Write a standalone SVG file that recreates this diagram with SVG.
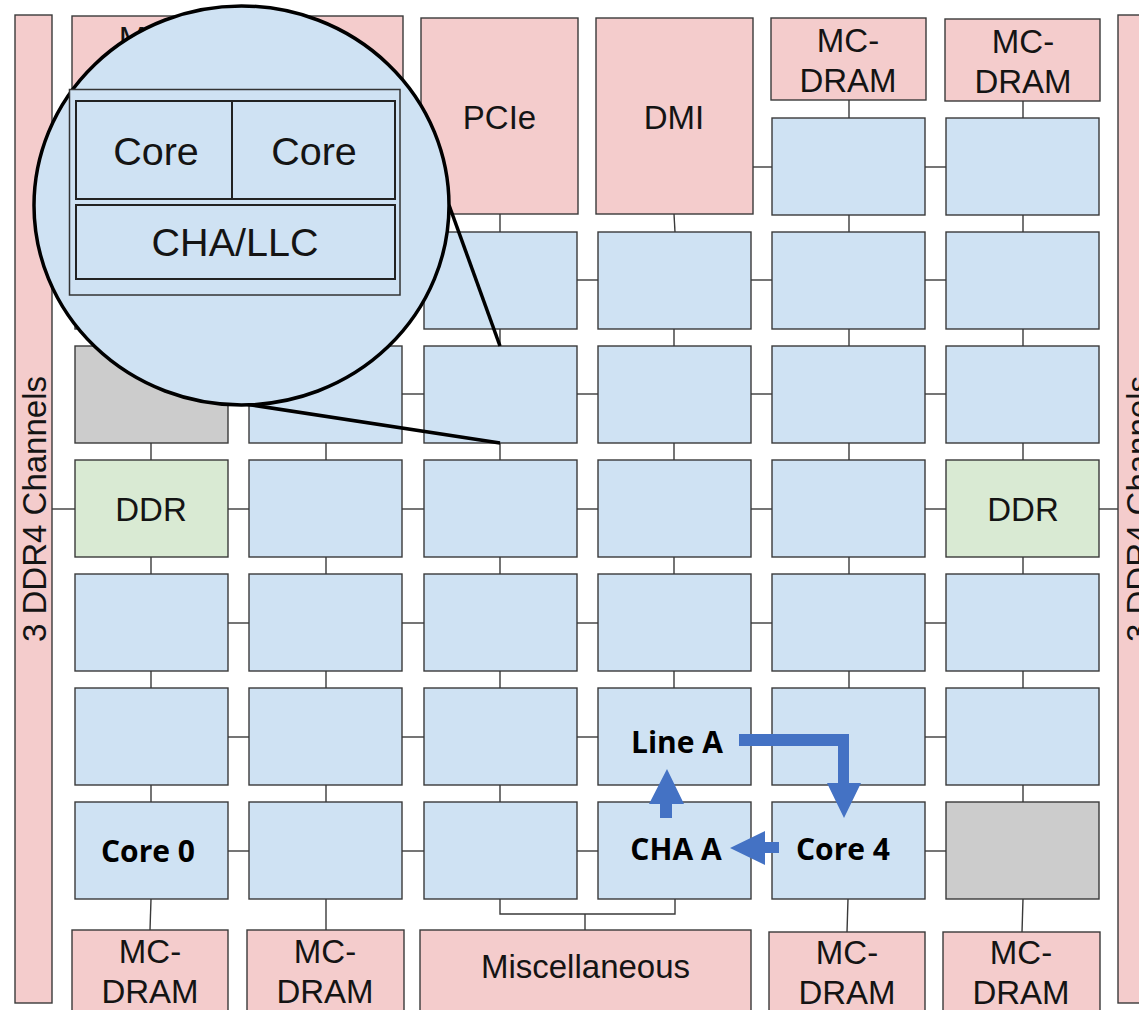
<svg xmlns="http://www.w3.org/2000/svg" width="1139" height="1010" viewBox="0 0 1139 1010">
<style>
.pink{fill:#f4cccc;stroke:#3a3a3a;stroke-width:1.4}
.blue{fill:#cfe2f3;stroke:#3a3a3a;stroke-width:1.4}
.green{fill:#d9ead3;stroke:#3a3a3a;stroke-width:1.4}
.gray{fill:#cccccc;stroke:#3a3a3a;stroke-width:1.4}
.lbl{font-family:"Liberation Sans",Arial,sans-serif;font-size:33px;fill:#141414;text-anchor:middle}
.big{font-family:"Liberation Sans",Arial,sans-serif;font-size:39.5px;fill:#141414;text-anchor:middle}
.bold{font-family:"Open Sans","Noto Sans",sans-serif;font-size:30px;font-weight:700;fill:#000;text-anchor:middle}
.conn line,.conn polyline{stroke:#3a3a3a;stroke-width:1.4;fill:none}
.arrow{fill:#4472c4}
</style>
<rect width="1139" height="1010" fill="#ffffff"/>

<!-- channel bars -->
<g id="left-channels">
<rect class="pink" x="15" y="15" width="37" height="988"/>
<text class="lbl" transform="rotate(-90 46 509)" x="46" y="509">3 DDR4 Channels</text>
</g>
<g id="right-channels">
<rect class="pink" x="1118" y="15" width="45" height="988"/>
<text class="lbl" transform="rotate(-90 1150 509)" x="1150" y="509">3 DDR4 Channels</text>
</g>

<!-- connectors -->
<g id="connectors" class="conn">
<line x1="52" y1="509" x2="75" y2="509"/>
<line x1="1099" y1="509" x2="1118" y2="509"/>
<line x1="753" y1="167" x2="772" y2="167"/>
<line x1="925" y1="167" x2="946" y2="167"/>
<line x1="849" y1="100" x2="849" y2="118"/>
<line x1="1023" y1="101" x2="1023" y2="118"/>
<line x1="849" y1="215" x2="849" y2="232"/>
<line x1="1023" y1="215" x2="1023" y2="232"/>
<line x1="500" y1="214" x2="500" y2="232"/>
<line x1="674" y1="214" x2="675" y2="232"/>
<line x1="228" y1="280" x2="249" y2="280"/><line x1="402" y1="280" x2="424" y2="280"/><line x1="577" y1="280" x2="598" y2="280"/><line x1="751" y1="280" x2="772" y2="280"/><line x1="925" y1="280" x2="946" y2="280"/>
<line x1="228" y1="394" x2="249" y2="394"/><line x1="402" y1="394" x2="424" y2="394"/><line x1="577" y1="394" x2="598" y2="394"/><line x1="751" y1="394" x2="772" y2="394"/><line x1="925" y1="394" x2="946" y2="394"/>
<line x1="228" y1="509" x2="249" y2="509"/><line x1="402" y1="509" x2="424" y2="509"/><line x1="577" y1="509" x2="598" y2="509"/><line x1="751" y1="509" x2="772" y2="509"/><line x1="925" y1="509" x2="946" y2="509"/>
<line x1="228" y1="623" x2="249" y2="623"/><line x1="402" y1="623" x2="424" y2="623"/><line x1="577" y1="623" x2="598" y2="623"/><line x1="751" y1="623" x2="772" y2="623"/><line x1="925" y1="623" x2="946" y2="623"/>
<line x1="228" y1="737" x2="249" y2="737"/><line x1="402" y1="737" x2="424" y2="737"/><line x1="577" y1="737" x2="598" y2="737"/><line x1="751" y1="737" x2="772" y2="737"/><line x1="925" y1="737" x2="946" y2="737"/>
<line x1="228" y1="851" x2="249" y2="851"/><line x1="402" y1="851" x2="424" y2="851"/><line x1="577" y1="851" x2="598" y2="851"/><line x1="751" y1="851" x2="772" y2="851"/><line x1="925" y1="851" x2="946" y2="851"/>
<line x1="151" y1="329" x2="151" y2="346"/><line x1="326" y1="329" x2="326" y2="346"/><line x1="500" y1="329" x2="500" y2="346"/><line x1="674" y1="329" x2="674" y2="346"/><line x1="849" y1="329" x2="849" y2="346"/><line x1="1023" y1="329" x2="1023" y2="346"/>
<line x1="151" y1="443" x2="151" y2="460"/><line x1="326" y1="443" x2="326" y2="460"/><line x1="500" y1="443" x2="500" y2="460"/><line x1="674" y1="443" x2="674" y2="460"/><line x1="849" y1="443" x2="849" y2="460"/><line x1="1023" y1="443" x2="1023" y2="460"/>
<line x1="151" y1="557" x2="151" y2="574"/><line x1="326" y1="557" x2="326" y2="574"/><line x1="500" y1="557" x2="500" y2="574"/><line x1="674" y1="557" x2="674" y2="574"/><line x1="849" y1="557" x2="849" y2="574"/><line x1="1023" y1="557" x2="1023" y2="574"/>
<line x1="151" y1="671" x2="151" y2="688"/><line x1="326" y1="671" x2="326" y2="688"/><line x1="500" y1="671" x2="500" y2="688"/><line x1="674" y1="671" x2="674" y2="688"/><line x1="849" y1="671" x2="849" y2="688"/><line x1="1023" y1="671" x2="1023" y2="688"/>
<line x1="151" y1="785" x2="151" y2="802"/><line x1="326" y1="785" x2="326" y2="802"/><line x1="500" y1="785" x2="500" y2="802"/><line x1="674" y1="785" x2="674" y2="802"/><line x1="849" y1="785" x2="849" y2="802"/><line x1="1023" y1="785" x2="1023" y2="802"/>
<line x1="151" y1="899" x2="150" y2="930"/>
<line x1="326" y1="899" x2="326" y2="930"/>
<line x1="848" y1="899" x2="847" y2="932"/>
<line x1="1023" y1="899" x2="1022" y2="932"/>
<polyline points="500,899 500,914 675,914 675,899"/>
<line x1="585" y1="914" x2="585" y2="930"/>
</g>

<!-- top I/O -->
<g id="mcdram-top-1"><rect class="pink" x="72" y="16" width="155" height="84"/><text class="lbl" x="150" y="50">MC-</text><text class="lbl" x="150" y="90">DRAM</text></g>
<g id="mcdram-top-2"><rect class="pink" x="249" y="16" width="154" height="84"/></g>
<g id="pcie"><rect class="pink" x="421" y="18" width="157" height="196"/><text class="lbl" x="499.5" y="129">PCIe</text></g>
<g id="dmi"><rect class="pink" x="596" y="18" width="157" height="196"/><text class="lbl" x="674" y="129">DMI</text></g>
<g id="mcdram-top-5"><rect class="pink" x="771" y="18" width="155" height="82"/><text class="lbl" x="848" y="52">MC-</text><text class="lbl" x="848" y="92">DRAM</text></g>
<g id="mcdram-top-6"><rect class="pink" x="945" y="19" width="155" height="82"/><text class="lbl" x="1023" y="53">MC-</text><text class="lbl" x="1023" y="93">DRAM</text></g>

<!-- row 1 -->
<g id="t-1-5"><rect class="blue" x="772" y="118" width="153" height="97"/></g>
<g id="t-1-6"><rect class="blue" x="946" y="118" width="153" height="97"/></g>
<!-- row 2 -->
<g id="t-2-1"><rect class="blue" x="75" y="232" width="153" height="97"/></g>
<g id="t-2-2"><rect class="blue" x="249" y="232" width="153" height="97"/></g>
<g id="t-2-3"><rect class="blue" x="424" y="232" width="153" height="97"/></g>
<g id="t-2-4"><rect class="blue" x="598" y="232" width="153" height="97"/></g>
<g id="t-2-5"><rect class="blue" x="772" y="232" width="153" height="97"/></g>
<g id="t-2-6"><rect class="blue" x="946" y="232" width="153" height="97"/></g>
<!-- row 3 -->
<g id="t-3-1"><rect class="gray" x="75" y="346" width="153" height="97"/></g>
<g id="t-3-2"><rect class="blue" x="249" y="346" width="153" height="97"/></g>
<g id="t-3-3"><rect class="blue" x="424" y="346" width="153" height="97"/></g>
<g id="t-3-4"><rect class="blue" x="598" y="346" width="153" height="97"/></g>
<g id="t-3-5"><rect class="blue" x="772" y="346" width="153" height="97"/></g>
<g id="t-3-6"><rect class="blue" x="946" y="346" width="153" height="97"/></g>
<!-- row 4 -->
<g id="ddr-left"><rect class="green" x="75" y="460" width="153" height="97"/><text class="lbl" x="151" y="521">DDR</text></g>
<g id="t-4-2"><rect class="blue" x="249" y="460" width="153" height="97"/></g>
<g id="t-4-3"><rect class="blue" x="424" y="460" width="153" height="97"/></g>
<g id="t-4-4"><rect class="blue" x="598" y="460" width="153" height="97"/></g>
<g id="t-4-5"><rect class="blue" x="772" y="460" width="153" height="97"/></g>
<g id="ddr-right"><rect class="green" x="946" y="460" width="153" height="97"/><text class="lbl" x="1023" y="521">DDR</text></g>
<!-- row 5 -->
<g id="t-5-1"><rect class="blue" x="75" y="574" width="153" height="97"/></g>
<g id="t-5-2"><rect class="blue" x="249" y="574" width="153" height="97"/></g>
<g id="t-5-3"><rect class="blue" x="424" y="574" width="153" height="97"/></g>
<g id="t-5-4"><rect class="blue" x="598" y="574" width="153" height="97"/></g>
<g id="t-5-5"><rect class="blue" x="772" y="574" width="153" height="97"/></g>
<g id="t-5-6"><rect class="blue" x="946" y="574" width="153" height="97"/></g>
<!-- row 6 -->
<g id="t-6-1"><rect class="blue" x="75" y="688" width="153" height="97"/></g>
<g id="t-6-2"><rect class="blue" x="249" y="688" width="153" height="97"/></g>
<g id="t-6-3"><rect class="blue" x="424" y="688" width="153" height="97"/></g>
<g id="line-a"><rect class="blue" x="598" y="688" width="153" height="97"/><text class="bold" x="677" y="753">Line A</text></g>
<g id="t-6-5"><rect class="blue" x="772" y="688" width="153" height="97"/></g>
<g id="t-6-6"><rect class="blue" x="946" y="688" width="153" height="97"/></g>
<!-- row 7 -->
<g id="core-0"><rect class="blue" x="75" y="802" width="153" height="97"/><text class="bold" x="148" y="862">Core 0</text></g>
<g id="t-7-2"><rect class="blue" x="249" y="802" width="153" height="97"/></g>
<g id="t-7-3"><rect class="blue" x="424" y="802" width="153" height="97"/></g>
<g id="cha-a"><rect class="blue" x="598" y="802" width="153" height="97"/><text class="bold" x="676" y="860">CHA A</text></g>
<g id="core-4"><rect class="blue" x="772" y="802" width="153" height="97"/><text class="bold" x="843" y="860">Core 4</text></g>
<g id="t-7-6"><rect class="gray" x="946" y="802" width="153" height="97"/></g>

<!-- bottom I/O -->
<g id="mcdram-bot-1"><rect class="pink" x="72" y="930" width="156" height="90"/><text class="lbl" x="150" y="963">MC-</text><text class="lbl" x="150" y="1003">DRAM</text></g>
<g id="mcdram-bot-2"><rect class="pink" x="247" y="930" width="157" height="90"/><text class="lbl" x="325" y="963">MC-</text><text class="lbl" x="325" y="1003">DRAM</text></g>
<g id="misc"><rect class="pink" x="420" y="930" width="331" height="90"/><text class="lbl" x="585.5" y="978">Miscellaneous</text></g>
<g id="mcdram-bot-5"><rect class="pink" x="769" y="932" width="156" height="90"/><text class="lbl" x="847" y="964">MC-</text><text class="lbl" x="847" y="1004">DRAM</text></g>
<g id="mcdram-bot-6"><rect class="pink" x="943" y="932" width="157" height="90"/><text class="lbl" x="1021" y="964">MC-</text><text class="lbl" x="1021" y="1004">DRAM</text></g>

<!-- flow arrows -->
<g id="flow-arrows">
<polygon class="arrow" points="739,734 849,734 849,783 861,783 844,818 827,783 838,783 838,746 739,746"/>
<polygon class="arrow" points="660,818 672,818 672,804 684,804 667,769 649,804 660,804"/>
<polygon class="arrow" points="779,842 779,853 765,853 765,865 730,848 765,831 765,842"/>
</g>

<!-- magnifier -->
<g id="magnifier">
<line x1="449" y1="205" x2="500" y2="346" stroke="#000" stroke-width="3.5"/>
<line x1="245" y1="404" x2="500" y2="443" stroke="#000" stroke-width="3.5"/>
<ellipse cx="241.5" cy="205.5" rx="207.5" ry="199.5" fill="#cfe2f3" stroke="#000" stroke-width="3.5"/>
<rect x="69.5" y="89.5" width="330.5" height="205.5" fill="#cfe2f3" stroke="#333" stroke-width="1.5"/>
<g id="inset-core-left"><rect x="76" y="101" width="156" height="98" fill="#cfe2f3" stroke="#222" stroke-width="2"/><text class="big" x="156" y="165">Core</text></g>
<g id="inset-core-right"><rect x="232" y="101" width="163" height="98" fill="#cfe2f3" stroke="#222" stroke-width="2"/><text class="big" x="314" y="165">Core</text></g>
<g id="inset-cha"><rect x="76" y="205" width="319" height="74" fill="#cfe2f3" stroke="#222" stroke-width="2"/><text class="big" x="235" y="256">CHA/LLC</text></g>
</g>
</svg>
